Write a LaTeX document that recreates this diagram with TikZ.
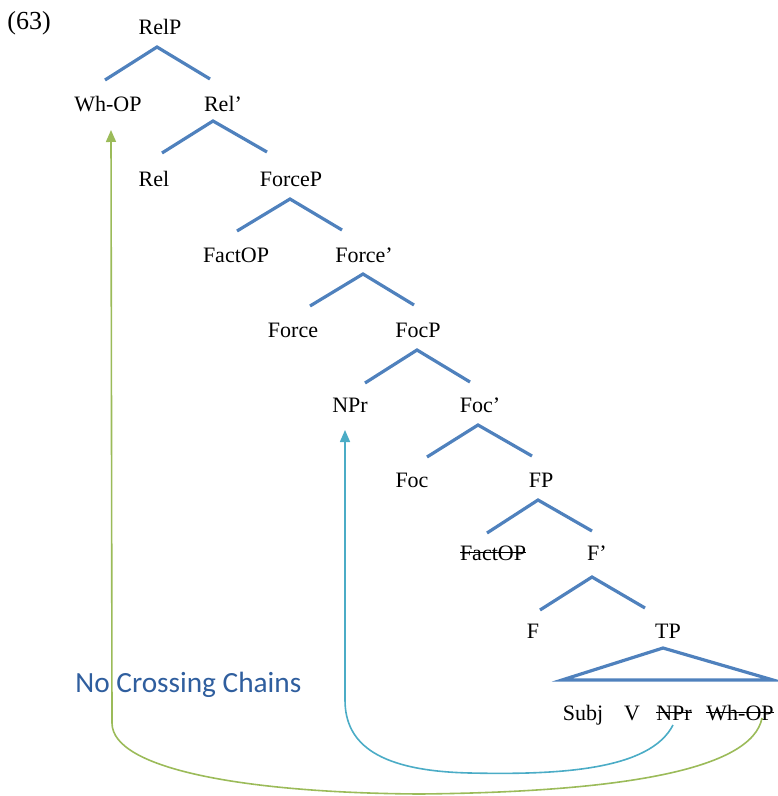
\documentclass[tikz,border=0pt]{standalone}
\usepackage{fontspec}
\setmainfont{Liberation Serif}
\newfontfamily\chainfont{Carlito}
\usetikzlibrary{arrows.meta}
\newcommand\strk[1]{\setbox0\hbox{#1}\rlap{\rule[0.3em]{\wd0}{0.5pt}}\box0}
\definecolor{treeblue}{HTML}{4F81BD}
\definecolor{chaingreen}{HTML}{9BBB59}
\definecolor{chaincyan}{HTML}{4BACC6}
\definecolor{titleblue}{HTML}{2F5E9E}
\begin{document}
\begin{tikzpicture}[x=0.5pt,y=-0.5pt,
  lbl/.style={anchor=base,inner sep=0pt,font=\fontsize{11}{13}\selectfont},
  branch/.style={draw=treeblue,line width=1.6pt},
  chain/.style={line width=0.8pt,-{Triangle[width=5pt,length=6pt]}}]
\useasboundingbox (0,0) rectangle (777,796);
\node[anchor=base west,inner sep=0pt,font=\fontsize{13}{15}\selectfont] (ex) at (7,30) {(63)};
% labels
\node[lbl] (relp) at (160,35) {RelP};
\node[lbl] (whop) at (108,112) {Wh-OP};
\node[lbl] (relbar) at (223,112) {Rel’};
\node[lbl] (rel) at (154,187) {Rel};
\node[lbl] (forcep) at (291,187) {ForceP};
\node[lbl] (factop) at (236,263) {FactOP};
\node[lbl] (forcebar) at (364,263) {Force’};
\node[lbl] (force) at (293,337) {Force};
\node[lbl] (focp) at (418,337) {FocP};
\node[lbl] (npr) at (350,412) {NPr};
\node[lbl] (focbar) at (480,412) {Foc’};
\node[lbl] (foc) at (412,487) {Foc};
\node[lbl] (fp) at (541,487) {FP};
\node[lbl] (factopt) at (493,560) {\strk{FactOP}};
\node[lbl] (fbar) at (597,560) {F’};
\node[lbl] (f) at (533,638) {F};
\node[lbl] (tp) at (668,638) {TP};
\node[lbl] (subj) at (583,720) {Subj};
\node[lbl] (v) at (632,720) {V};
\node[lbl] (nprt) at (674,720) {\strk{NPr}};
\node[lbl] (whopt) at (740,720) {\strk{Wh-OP}};
\node[anchor=base west,inner sep=0pt,text=titleblue,font=\chainfont\fontsize{14.65}{17}\selectfont] (title) at (75,692) {No Crossing Chains};
% branch coordinates
\coordinate (a1) at (157,47); \coordinate (l1) at (105,80); \coordinate (r1) at (210,79);
\coordinate (a2) at (213,121); \coordinate (l2) at (162,153); \coordinate (r2) at (267,152);
\coordinate (a3) at (290,199); \coordinate (l3) at (237,231); \coordinate (r3) at (342,230);
\coordinate (a4) at (363,274); \coordinate (l4) at (310,306); \coordinate (r4) at (414,305);
\coordinate (a5) at (417,350); \coordinate (l5) at (365,383); \coordinate (r5) at (470,382);
\coordinate (a6) at (478,425); \coordinate (l6) at (427,457); \coordinate (r6) at (532,456);
\coordinate (a7) at (538,500); \coordinate (l7) at (487,533); \coordinate (r7) at (592,531);
\coordinate (a8) at (592,577); \coordinate (l8) at (540,610); \coordinate (r8) at (645,608);
\coordinate (ta) at (663,648); \coordinate (tl) at (562,680); \coordinate (tr) at (773,680);
\foreach \i in {1,...,8} \draw[branch] (l\i) -- (a\i) -- (r\i);
\draw[branch,line join=miter] (tl) -- (ta) -- (tr) -- cycle;
% chains
\coordinate (gs) at (762,718); \coordinate (gt) at (111,130);
\coordinate (bs) at (673,725); \coordinate (bt) at (345,430);
\draw[chain,draw=chaingreen] (gs) .. controls (752,770) and (620,792) .. (420,794)
  .. controls (250,793) and (112,770) .. (112,723) -- (gt);
\draw[chain,draw=chaincyan] (bs) .. controls (650,770) and (560,775) .. (470,773)
  .. controls (380,771) and (345,745) .. (345,700) -- (bt);
\end{tikzpicture}
\end{document}
